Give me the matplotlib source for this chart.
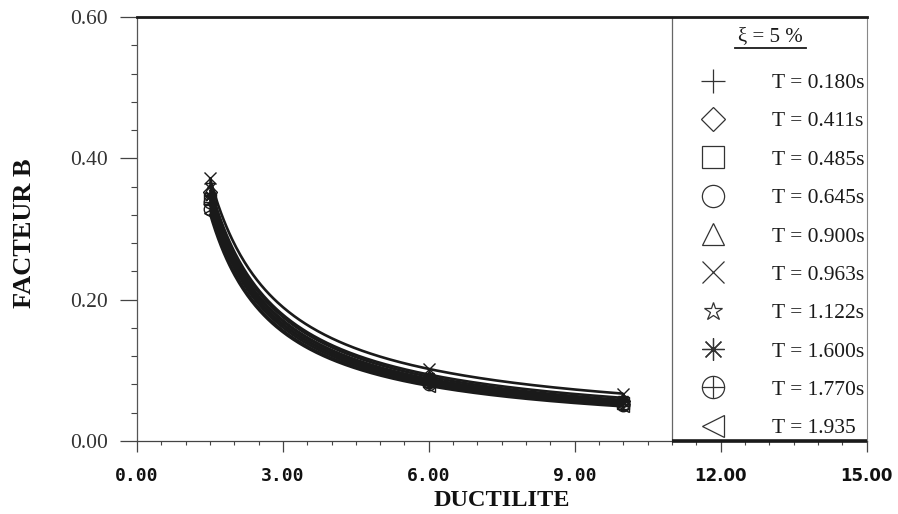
import numpy as np
import matplotlib
matplotlib.use("Agg")
import matplotlib.pyplot as plt
from matplotlib.lines import Line2D
from matplotlib.path import Path
from matplotlib.ticker import MultipleLocator, FixedLocator

# Ductility levels at which the B factor was computed
ductility = [1.5, 6.0, 10.0]

# Periods (legend labels)
periods = ["T = 0.180s", "T = 0.411s", "T = 0.485s", "T = 0.645s", "T = 0.900s",
           "T = 0.963s", "T = 1.122s", "T = 1.600s", "T = 1.770s", "T = 1.935"]

# B factor for each period at ductility 1.5, 6 and 10
b_mu1_5 = [0.335, 0.352, 0.342, 0.328, 0.356, 0.372, 0.362, 0.346, 0.338, 0.322]
b_mu6 = [0.082, 0.088, 0.085, 0.080, 0.091, 0.102, 0.094, 0.087, 0.084, 0.078]
b_mu10 = [0.052, 0.056, 0.054, 0.051, 0.058, 0.067, 0.061, 0.055, 0.053, 0.049]

xticks = [0, 3, 6, 9, 12, 15]
xtick_labels = ["0.00", "3.00", "6.00", "9.00", "12.00", "15.00"]
yticks = [0.0, 0.2, 0.4, 0.6]
ytick_labels = ["0.00", "0.20", "0.40", "0.60"]

damping_title = "ξ = 5 %"

# crossed circle marker
circle_plus = Path.make_compound_path(
    Path.unit_circle(),
    Path([[-1, 0], [1, 0]], [Path.MOVETO, Path.LINETO]),
    Path([[0, -1], [0, 1]], [Path.MOVETO, Path.LINETO]),
)
markers = ["+", "D", "s", "o", "^", "x", "*", (8, 2, 0), circle_plus, "<"]
# relative glyph sizes so every symbol looks about the same size
marker_scale = [1.1, 0.75, 1.0, 1.0, 1.0, 1.0, 0.85, 1.0, 1.0, 0.95]

SERIF = "Liberation Serif"
INK = "#1a1a1a"

fig = plt.figure(figsize=(8.98, 5.14), dpi=100)
W, H = 898, 514
ax = fig.add_axes([137 / W, 73 / H, 729.5 / W, 424 / H])
ax.set_xlim(0, 15)
ax.set_ylim(0, 0.6)

# curves: smooth fit in log-log space through the three computed points
mu = np.array(ductility)
mu_dense = np.linspace(mu.min(), mu.max(), 300)
for i in range(len(periods)):
    b = np.array([b_mu1_5[i], b_mu6[i], b_mu10[i]])
    coef = np.polyfit(np.log(mu), np.log(b), 2)
    ax.plot(mu_dense, np.exp(np.polyval(coef, np.log(mu_dense))),
            color=INK, lw=1.9, solid_capstyle="butt", zorder=2)
    ax.plot(mu, b, linestyle="none", marker=markers[i], ms=9 * marker_scale[i],
            mfc="none", mec=INK, mew=1.0, zorder=3)

# legend panel on the right
x_panel = 11.0
ax.axvline(x_panel, color="#666666", lw=0.9, zorder=1)
ax.hlines(0, x_panel, 15, colors=INK, lw=2.6, clip_on=False, zorder=4)

handles = [Line2D([], [], linestyle="none", marker=m, ms=16 * s, mfc="none",
                  mec="#333333", mew=0.9) for m, s in zip(markers, marker_scale)]
fs_leg = 15.5
leg = ax.legend(handles, periods, loc="upper left",
                bbox_to_anchor=((691 - 137) / 729.5, (441 - 73) / 424),
                frameon=False, borderpad=0, borderaxespad=0,
                handlelength=2.0, handletextpad=1.75, labelspacing=0.85,
                prop={"family": SERIF, "size": fs_leg})
for t in leg.get_texts():
    t.set_color(INK)

tx = ax.text((770 - 137) / 729.5, (441 - 37) / 424, damping_title,
             transform=ax.transAxes, ha="center", va="center",
             fontfamily=SERIF, fontsize=15, color=INK)
ax.plot([(735 - 137) / 729.5, (806 - 137) / 729.5],
        [(441 - 48) / 424] * 2, transform=ax.transAxes,
        color=INK, lw=1.3, clip_on=False)

# spines
ax.spines["top"].set_linewidth(2.0)
ax.spines["top"].set_color(INK)
ax.spines["right"].set_linewidth(0.8)
ax.spines["right"].set_color("#888888")
ax.spines["left"].set_linewidth(0.9)
ax.spines["left"].set_color("#555555")
ax.spines["bottom"].set_linewidth(0.9)
ax.spines["bottom"].set_color("#444444")

# ticks
ax.xaxis.set_major_locator(FixedLocator(xticks))
ax.xaxis.set_minor_locator(MultipleLocator(0.5))
ax.yaxis.set_major_locator(FixedLocator(yticks))
ax.yaxis.set_minor_locator(MultipleLocator(0.04))
ax.set_xticklabels(xtick_labels)
ax.set_yticklabels(ytick_labels)
ax.tick_params(axis="x", which="major", direction="out", length=8, width=0.9,
               color="#444444", pad=11)
ax.tick_params(axis="x", which="minor", direction="out", length=3, width=0.8,
               color="#444444")
ax.tick_params(axis="y", which="major", direction="out", length=12, width=0.9,
               color="#444444", pad=9)
ax.tick_params(axis="y", which="minor", direction="out", length=4, width=0.8,
               color="#444444")

for lab in ax.get_xticklabels():
    if len(lab.get_text()) > 4:
        lab.set_fontfamily("DejaVu Sans")
        lab.set_fontweight("bold")
        lab.set_fontsize(12)
    else:
        lab.set_fontfamily("DejaVu Sans Mono")
        lab.set_fontweight("bold")
        lab.set_fontsize(13)
    lab.set_color("#111111")
for lab in ax.get_yticklabels():
    lab.set_fontfamily(SERIF)
    lab.set_fontsize(15.5)
    lab.set_color("#333333")

ax.set_xlabel("DUCTILITE", fontfamily=SERIF, fontweight="bold", fontsize=17.5,
              color="#111111")
ax.xaxis.set_label_coords(0.5, (441 - 500) / 424)
ax.xaxis.label.set_va("center")
ax.set_ylabel("FACTEUR B", fontfamily=SERIF, fontweight="bold", fontsize=19,
              color="#111111")
ax.yaxis.set_label_coords((25 - 137) / 729.5, (441 - 233) / 424)
ax.yaxis.label.set_va("center")

fig.savefig("out.png", dpi=100, facecolor="white")
